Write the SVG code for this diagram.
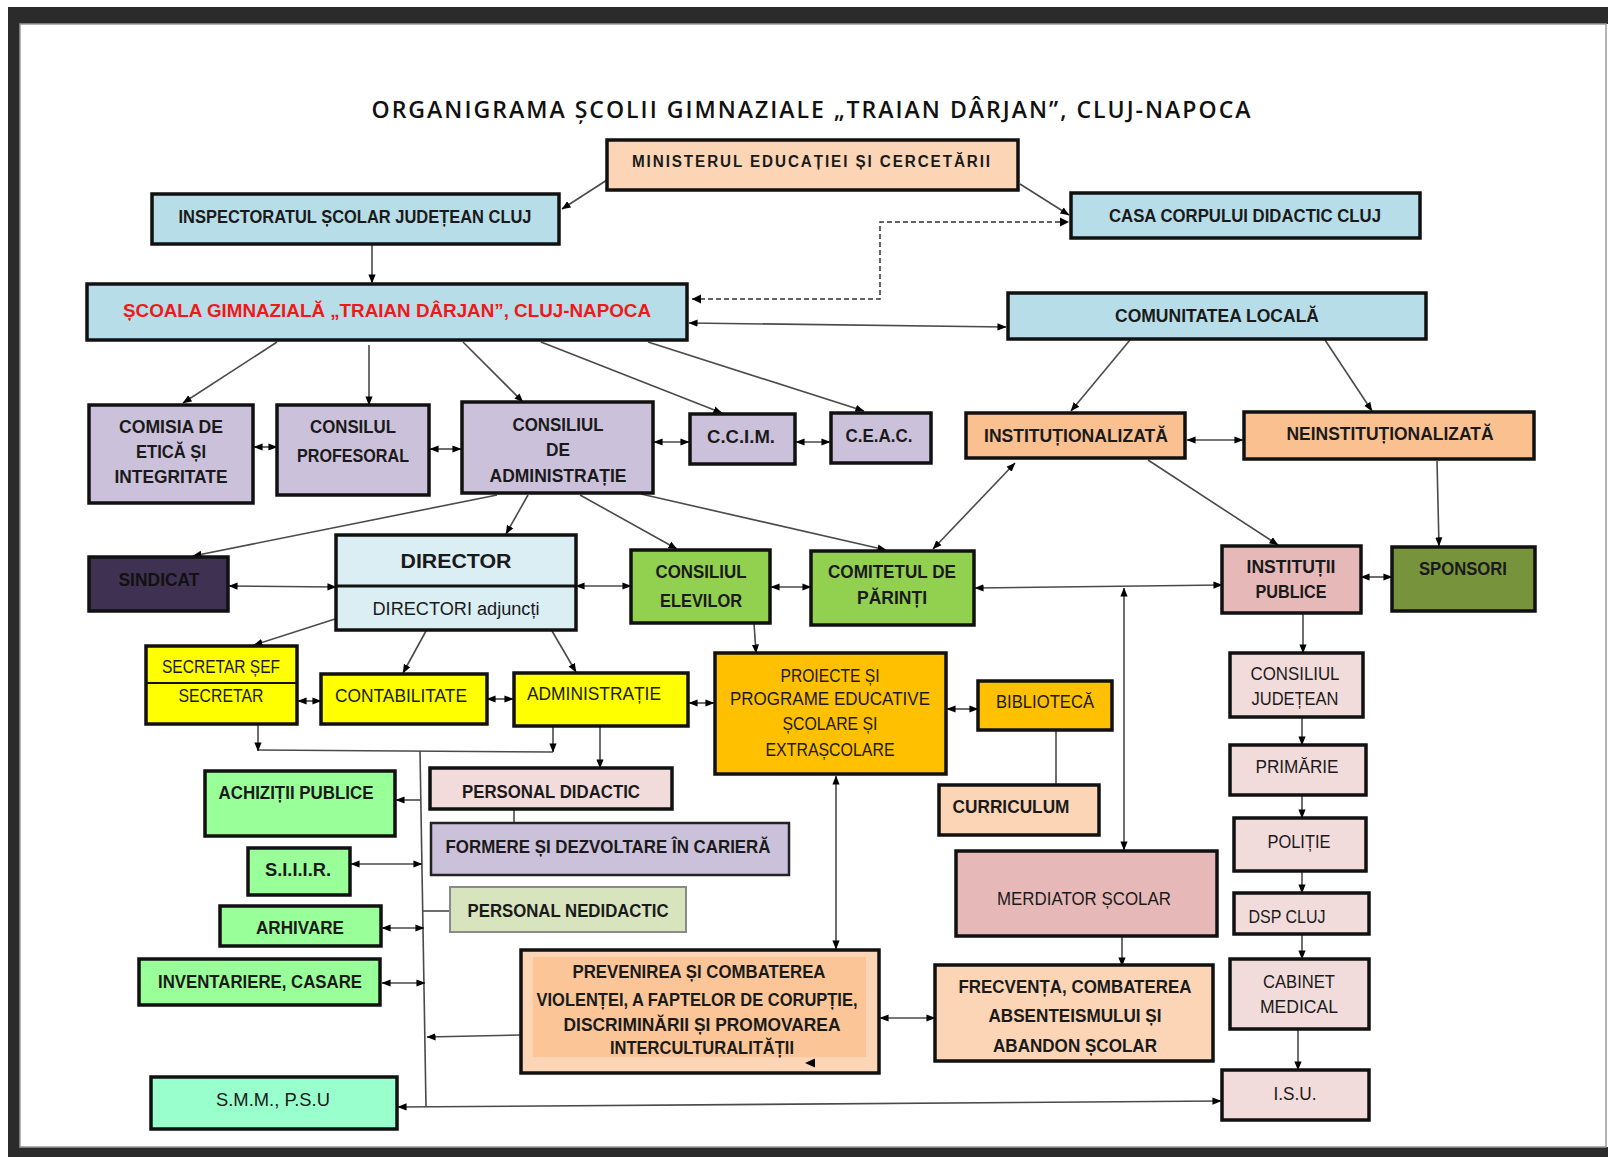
<svg xmlns="http://www.w3.org/2000/svg" width="1608" height="1157" viewBox="0 0 1608 1157">
<style>
.bx{stroke:#111;stroke-width:3.5}
.t{font-family:'Liberation Sans Narrow','Liberation Sans',Arial,sans-serif;font-weight:bold;font-size:18px;fill:#1a1a1a;text-anchor:middle}
.n{font-weight:normal}
.c{fill:none;stroke:#4a4a4a;stroke-width:1.6}
.d{fill:none;stroke:#333;stroke-width:1.5;stroke-dasharray:5 3}
.ce{marker-end:url(#ar)}
.cb{marker-start:url(#ar);marker-end:url(#ar)}
.peach{fill:#fbd5b5}.blue{fill:#b6dde8}.lav{fill:#ccc1da}.orp{fill:#fac090}
.green{fill:#92d050}.pink{fill:#e6b9b8}.lpink{fill:#f2dcdb}.yel{fill:#ffff00}
.org{fill:#ffc000}.lgr{fill:#99ff99}
</style>
<defs>
<marker id="ar" viewBox="0 0 10 10" refX="9.5" refY="5" markerWidth="9" markerHeight="9" markerUnits="userSpaceOnUse" orient="auto-start-reverse">
<path d="M0,1 L10,5 L0,9 z" fill="#000"/>
</marker>
</defs>

<!-- frame -->
<rect x="0" y="0" width="1608" height="1157" fill="#ffffff"/>
<rect x="8" y="7" width="1600" height="17" fill="#2b2b2b"/>
<rect x="8" y="7" width="12" height="1150" fill="#2b2b2b"/>
<rect x="8" y="1147" width="1600" height="10" fill="#2b2b2b"/>
<rect x="20" y="24" width="1586" height="1123" fill="#ffffff" stroke="#9a9a9a" stroke-width="1.5"/>

<text x="812" y="118" textLength="881" lengthAdjust="spacingAndGlyphs" style="font-family:'Open Sans','Liberation Sans',sans-serif;font-weight:600;font-size:23px;fill:#111;text-anchor:middle;letter-spacing:2px">ORGANIGRAMA ȘCOLII GIMNAZIALE „TRAIAN DÂRJAN”, CLUJ-NAPOCA</text>

<g id="connectors">
<line class="c ce" x1="607" y1="180" x2="562" y2="209"/>
<line class="c ce" x1="1020" y1="184" x2="1069" y2="215"/>
<polyline class="d" points="692,299 880,299 880,222 1067,222"/>
<path d="M692,299 l9,-4.5 v9 z" fill="#000"/>
<path d="M1069,222 l-9,-4.5 v9 z" fill="#000"/>
<line class="c cb" x1="689" y1="323" x2="1006" y2="327"/>
<line class="c ce" x1="372" y1="244" x2="372" y2="283"/>
<line class="c ce" x1="277" y1="342" x2="183" y2="403"/>
<line class="c ce" x1="369" y1="345" x2="369" y2="405"/>
<line class="c ce" x1="463" y1="342" x2="523" y2="402"/>
<line class="c ce" x1="541" y1="342" x2="722" y2="413"/>
<line class="c ce" x1="648" y1="342" x2="864" y2="411"/>
<line class="c cb" x1="254" y1="447" x2="277" y2="447"/>
<line class="c cb" x1="430" y1="449" x2="461" y2="449"/>
<line class="c cb" x1="654" y1="442" x2="689" y2="442"/>
<line class="c cb" x1="796" y1="442" x2="830" y2="442"/>
<line class="c cb" x1="1187" y1="440" x2="1243" y2="440"/>
<line class="c ce" x1="1130" y1="340" x2="1071" y2="411"/>
<line class="c ce" x1="1325" y1="340" x2="1372" y2="411"/>
<line class="c ce" x1="1148" y1="460" x2="1278" y2="545"/>
<line class="c ce" x1="1437" y1="461" x2="1439" y2="546"/>
<line class="c cb" x1="1015" y1="463" x2="933" y2="549"/>
<line class="c ce" x1="641" y1="494" x2="886" y2="550"/>
<line class="c ce" x1="497" y1="495" x2="193" y2="556"/>
<line class="c ce" x1="528" y1="495" x2="506" y2="534"/>
<line class="c ce" x1="580" y1="495" x2="677" y2="549"/>
<line class="c cb" x1="229" y1="586" x2="336" y2="587"/>
<line class="c cb" x1="576" y1="586" x2="631" y2="586"/>
<line class="c cb" x1="771" y1="587" x2="811" y2="587"/>
<line class="c cb" x1="975" y1="588" x2="1222" y2="585"/>
<line class="c cb" x1="1124" y1="588" x2="1124" y2="850"/>
<line class="c cb" x1="1361" y1="577" x2="1392" y2="577"/>
<line class="c ce" x1="1303" y1="613" x2="1303" y2="653"/>
<line class="c ce" x1="1302" y1="717" x2="1302" y2="745"/>
<line class="c ce" x1="1302" y1="795" x2="1302" y2="818"/>
<line class="c ce" x1="1302" y1="871" x2="1302" y2="893"/>
<line class="c ce" x1="1302" y1="934" x2="1302" y2="959"/>
<line class="c ce" x1="1298" y1="1029" x2="1298" y2="1070"/>
<line class="c ce" x1="1122" y1="936" x2="1122" y2="966"/>
<line class="c cb" x1="880" y1="1018" x2="935" y2="1018"/>
<line class="c cb" x1="836" y1="776" x2="836" y2="949"/>
<line class="c" x1="1056" y1="730" x2="1056" y2="785"/>
<line class="c cb" x1="398" y1="1107" x2="1221" y2="1101"/>
<line class="c" x1="420" y1="751" x2="426" y2="1107"/>
<line class="c" x1="258" y1="750" x2="553" y2="752"/>
<line class="c ce" x1="258" y1="724" x2="258" y2="751"/>
<line class="c ce" x1="553" y1="726" x2="553" y2="752"/>
<line class="c ce" x1="600" y1="727" x2="600" y2="768"/>
<line class="c ce" x1="421" y1="800" x2="396" y2="800"/>
<line class="c cb" x1="351" y1="864" x2="422" y2="864"/>
<line class="c" x1="423" y1="911" x2="450" y2="911"/>
<line class="c cb" x1="382" y1="928" x2="424" y2="928"/>
<line class="c cb" x1="382" y1="983" x2="425" y2="983"/>
<line class="c ce" x1="521" y1="1035" x2="427" y2="1037"/>
<line class="c" x1="514" y1="809" x2="514" y2="823"/>
<line class="c ce" x1="335" y1="619" x2="254" y2="645"/>
<line class="c ce" x1="426" y1="631" x2="403" y2="673"/>
<line class="c ce" x1="552" y1="631" x2="576" y2="672"/>
<line class="c ce" x1="754" y1="623" x2="756" y2="653"/>
<line class="c cb" x1="298" y1="701" x2="321" y2="701"/>
<line class="c cb" x1="487" y1="699" x2="513" y2="699"/>
<line class="c cb" x1="689" y1="703" x2="714" y2="703"/>
<line class="c cb" x1="947" y1="709" x2="978" y2="709"/>
</g>

<g id="n-min"><rect class="bx peach" x="607" y="140" width="411" height="50"/>
<text class="t" x="812" y="167" textLength="360" lengthAdjust="spacingAndGlyphs" style="font-size:16px;letter-spacing:2px">MINISTERUL EDUCAȚIEI ȘI CERCETĂRII</text></g>

<g id="n-insp"><rect class="bx blue" x="152" y="194" width="407" height="50"/>
<text class="t" x="355" y="223" textLength="353" lengthAdjust="spacingAndGlyphs">INSPECTORATUL ȘCOLAR JUDEȚEAN CLUJ</text></g>

<g id="n-casa"><rect class="bx blue" x="1071" y="193" width="349" height="45"/>
<text class="t" x="1245" y="222" textLength="272" lengthAdjust="spacingAndGlyphs">CASA CORPULUI DIDACTIC CLUJ</text></g>

<g id="n-scoala"><rect class="bx blue" x="87" y="284" width="600" height="56"/>
<text class="t" x="387" y="317" textLength="528" lengthAdjust="spacingAndGlyphs" style="fill:#f01818;font-size:19px">ȘCOALA GIMNAZIALĂ „TRAIAN DÂRJAN”, CLUJ-NAPOCA</text></g>

<g id="n-comunitatea"><rect class="bx blue" x="1008" y="293" width="418" height="46"/>
<text class="t" x="1217" y="322" textLength="204" lengthAdjust="spacingAndGlyphs">COMUNITATEA LOCALĂ</text></g>

<g id="n-comisia"><rect class="bx lav" x="89" y="405" width="164" height="98"/>
<text class="t" x="171" y="433" textLength="104" lengthAdjust="spacingAndGlyphs">COMISIA DE</text>
<text class="t" x="171" y="458" textLength="70" lengthAdjust="spacingAndGlyphs">ETICĂ ȘI</text>
<text class="t" x="171" y="483" textLength="113" lengthAdjust="spacingAndGlyphs">INTEGRITATE</text></g>

<g id="n-profesoral"><rect class="bx lav" x="277" y="405" width="152" height="90"/>
<text class="t" x="353" y="433" textLength="86" lengthAdjust="spacingAndGlyphs">CONSILUL</text>
<text class="t" x="353" y="462" textLength="112" lengthAdjust="spacingAndGlyphs">PROFESORAL</text></g>

<g id="n-ca"><rect class="bx lav" x="462" y="402" width="191" height="91"/>
<text class="t" x="558" y="431" textLength="91" lengthAdjust="spacingAndGlyphs">CONSILIUL</text>
<text class="t" x="558" y="456" textLength="24" lengthAdjust="spacingAndGlyphs">DE</text>
<text class="t" x="558" y="482" textLength="137" lengthAdjust="spacingAndGlyphs">ADMINISTRAȚIE</text></g>

<g id="n-ccim"><rect class="bx lav" x="690" y="414" width="105" height="50"/>
<text class="t" x="741" y="443" textLength="68" lengthAdjust="spacingAndGlyphs">C.C.I.M.</text></g>

<g id="n-ceac"><rect class="bx lav" x="831" y="413" width="100" height="50"/>
<text class="t" x="879" y="442" textLength="67" lengthAdjust="spacingAndGlyphs">C.E.A.C.</text></g>

<g id="n-inst"><rect class="bx orp" x="966" y="413" width="219" height="45"/>
<text class="t" x="1076" y="442" textLength="184" lengthAdjust="spacingAndGlyphs">INSTITUȚIONALIZATĂ</text></g>

<g id="n-neinst"><rect class="bx orp" x="1244" y="412" width="290" height="47"/>
<text class="t" x="1390" y="440" textLength="207" lengthAdjust="spacingAndGlyphs">NEINSTITUȚIONALIZATĂ</text></g>

<g id="n-sindicat"><rect class="bx" fill="#3f3151" x="89" y="557" width="139" height="54"/>
<text class="t" x="159" y="586" textLength="81" lengthAdjust="spacingAndGlyphs" style="fill:#111">SINDICAT</text></g>

<g id="n-director"><rect class="bx" fill="#dbeef4" x="336" y="535" width="240" height="95"/>
<line x1="336" y1="586" x2="576" y2="586" stroke="#111" stroke-width="3"/>
<text class="t" x="456" y="568" textLength="111" lengthAdjust="spacingAndGlyphs" style="font-size:21px">DIRECTOR</text>
<text class="t n" x="456" y="615" textLength="167" lengthAdjust="spacingAndGlyphs">DIRECTORI adjuncți</text></g>

<g id="n-elevi"><rect class="bx green" x="631" y="550" width="139" height="73"/>
<text class="t" x="701" y="578" textLength="91" lengthAdjust="spacingAndGlyphs">CONSILIUL</text>
<text class="t" x="701" y="607" textLength="82" lengthAdjust="spacingAndGlyphs">ELEVILOR</text></g>

<g id="n-parinti"><rect class="bx green" x="811" y="551" width="163" height="74"/>
<text class="t" x="892" y="578" textLength="128" lengthAdjust="spacingAndGlyphs">COMITETUL DE</text>
<text class="t" x="892" y="604" textLength="70" lengthAdjust="spacingAndGlyphs">PĂRINȚI</text></g>

<g id="n-ip"><rect class="bx pink" x="1222" y="546" width="139" height="67"/>
<text class="t" x="1291" y="573" textLength="89" lengthAdjust="spacingAndGlyphs">INSTITUȚII</text>
<text class="t" x="1291" y="598" textLength="71" lengthAdjust="spacingAndGlyphs">PUBLICE</text></g>

<g id="n-sponsori"><rect class="bx" fill="#77933c" x="1392" y="547" width="143" height="64"/>
<text class="t" x="1463" y="575" textLength="88" lengthAdjust="spacingAndGlyphs">SPONSORI</text></g>

<g id="n-secretar"><rect class="bx yel" x="146" y="646" width="151" height="78"/>
<line x1="146" y1="683" x2="297" y2="683" stroke="#111" stroke-width="2"/>
<text class="t n" x="221" y="673" textLength="118" lengthAdjust="spacingAndGlyphs">SECRETAR ȘEF</text>
<text class="t n" x="221" y="702" textLength="85" lengthAdjust="spacingAndGlyphs">SECRETAR</text></g>

<g id="n-contab"><rect class="bx yel" x="321" y="674" width="166" height="50"/>
<text class="t n" x="401" y="702" textLength="132" lengthAdjust="spacingAndGlyphs">CONTABILITATE</text></g>

<g id="n-admin"><rect class="bx yel" x="514" y="673" width="174" height="53"/>
<text class="t n" x="594" y="700" textLength="134" lengthAdjust="spacingAndGlyphs">ADMINISTRAȚIE</text></g>

<g id="n-proiecte"><rect class="bx org" x="715" y="653" width="231" height="121"/>
<text class="t n" x="830" y="682" textLength="99" lengthAdjust="spacingAndGlyphs">PROIECTE ȘI</text>
<text class="t n" x="830" y="705" textLength="200" lengthAdjust="spacingAndGlyphs">PROGRAME EDUCATIVE</text>
<text class="t n" x="830" y="730" textLength="95" lengthAdjust="spacingAndGlyphs">ȘCOLARE ȘI</text>
<text class="t n" x="830" y="756" textLength="129" lengthAdjust="spacingAndGlyphs">EXTRAȘCOLARE</text></g>

<g id="n-biblioteca"><rect class="bx org" x="978" y="681" width="134" height="49"/>
<text class="t n" x="1045" y="708" textLength="98" lengthAdjust="spacingAndGlyphs">BIBLIOTECĂ</text></g>

<g id="n-curriculum"><rect class="bx peach" x="939" y="785" width="160" height="50"/>
<text class="t" x="1011" y="813" textLength="117" lengthAdjust="spacingAndGlyphs">CURRICULUM</text></g>

<g id="n-cj"><rect class="bx lpink" x="1230" y="653" width="133" height="64"/>
<text class="t n" x="1295" y="680" textLength="89" lengthAdjust="spacingAndGlyphs">CONSILIUL</text>
<text class="t n" x="1295" y="705" textLength="87" lengthAdjust="spacingAndGlyphs">JUDEȚEAN</text></g>

<g id="n-primarie"><rect class="bx lpink" x="1230" y="745" width="136" height="50"/>
<text class="t n" x="1297" y="773" textLength="83" lengthAdjust="spacingAndGlyphs">PRIMĂRIE</text></g>

<g id="n-politie"><rect class="bx lpink" x="1234" y="818" width="132" height="53"/>
<text class="t n" x="1299" y="848" textLength="63" lengthAdjust="spacingAndGlyphs">POLIȚIE</text></g>

<g id="n-dsp"><rect class="bx lpink" x="1234" y="893" width="135" height="41"/>
<text class="t n" x="1287" y="923" textLength="77" lengthAdjust="spacingAndGlyphs">DSP CLUJ</text></g>

<g id="n-cabinet"><rect class="bx lpink" x="1230" y="959" width="139" height="70"/>
<text class="t n" x="1299" y="988" textLength="72" lengthAdjust="spacingAndGlyphs">CABINET</text>
<text class="t n" x="1299" y="1013" textLength="78" lengthAdjust="spacingAndGlyphs">MEDICAL</text></g>

<g id="n-isu"><rect class="bx lpink" x="1222" y="1070" width="147" height="50"/>
<text class="t n" x="1295" y="1100" textLength="43" lengthAdjust="spacingAndGlyphs">I.S.U.</text></g>

<g id="n-achizitii"><rect class="bx lgr" x="205" y="771" width="190" height="65"/>
<text class="t" x="296" y="799" textLength="155" lengthAdjust="spacingAndGlyphs">ACHIZIȚII PUBLICE</text></g>

<g id="n-pd"><rect class="bx lpink" x="430" y="768" width="242" height="41"/>
<text class="t" x="551" y="798" textLength="178" lengthAdjust="spacingAndGlyphs">PERSONAL DIDACTIC</text></g>

<g id="n-formere"><rect class="lav" stroke="#222" stroke-width="2.5" x="431" y="823" width="358" height="52"/>
<text class="t" x="608" y="853" textLength="325" lengthAdjust="spacingAndGlyphs">FORMERE ȘI DEZVOLTARE ÎN CARIERĂ</text></g>

<g id="n-siiir"><rect class="bx lgr" x="248" y="848" width="102" height="47"/>
<text class="t" x="298" y="876" textLength="66" lengthAdjust="spacingAndGlyphs">S.I.I.I.R.</text></g>

<g id="n-pnd"><rect fill="#d7e4bd" stroke="#8a8a8a" stroke-width="2" x="450" y="887" width="236" height="45"/>
<text class="t" x="568" y="917" textLength="201" lengthAdjust="spacingAndGlyphs">PERSONAL NEDIDACTIC</text></g>

<g id="n-arhivare"><rect class="bx lgr" x="220" y="906" width="161" height="40"/>
<text class="t" x="300" y="934" textLength="88" lengthAdjust="spacingAndGlyphs">ARHIVARE</text></g>

<g id="n-inventariere"><rect class="bx lgr" x="139" y="959" width="241" height="46"/>
<text class="t" x="260" y="988" textLength="204" lengthAdjust="spacingAndGlyphs">INVENTARIERE, CASARE</text></g>

<g id="n-prevenirea"><rect class="bx peach" x="521" y="950" width="358" height="123"/>
<rect x="533" y="957" width="333" height="100" fill="#fbc597"/>
<path d="M805,1063 l10,-4.5 v9 z" fill="#000"/>
<text class="t" x="699" y="978" textLength="253" lengthAdjust="spacingAndGlyphs">PREVENIREA ȘI COMBATEREA</text>
<text class="t" x="697" y="1006" textLength="321" lengthAdjust="spacingAndGlyphs">VIOLENȚEI, A FAPTELOR DE CORUPȚIE,</text>
<text class="t" x="702" y="1031" textLength="277" lengthAdjust="spacingAndGlyphs">DISCRIMINĂRII ȘI PROMOVAREA</text>
<text class="t" x="702" y="1054" textLength="184" lengthAdjust="spacingAndGlyphs">INTERCULTURALITĂȚII</text></g>

<g id="n-mediator"><rect class="bx pink" x="956" y="851" width="261" height="85"/>
<text class="t n" x="1084" y="905" textLength="174" lengthAdjust="spacingAndGlyphs">MERDIATOR ȘCOLAR</text></g>

<g id="n-frecventa"><rect class="bx peach" x="935" y="965" width="278" height="96"/>
<text class="t" x="1075" y="993" textLength="233" lengthAdjust="spacingAndGlyphs">FRECVENȚA, COMBATEREA</text>
<text class="t" x="1075" y="1022" textLength="173" lengthAdjust="spacingAndGlyphs">ABSENTEISMULUI ȘI</text>
<text class="t" x="1075" y="1052" textLength="164" lengthAdjust="spacingAndGlyphs">ABANDON ȘCOLAR</text></g>

<g id="n-smm"><rect class="bx" fill="#99ffcc" x="151" y="1077" width="246" height="52"/>
<text class="t n" x="273" y="1106" textLength="114" lengthAdjust="spacingAndGlyphs">S.M.M., P.S.U</text></g>
</svg>
